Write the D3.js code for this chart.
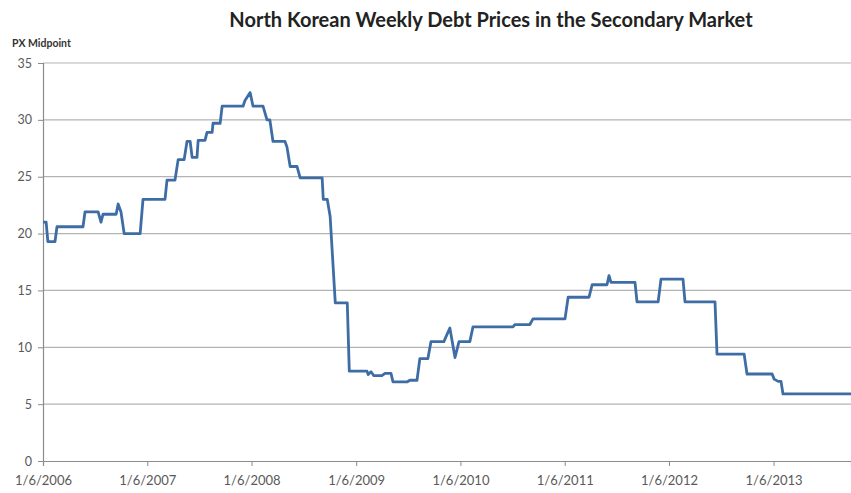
<!DOCTYPE html>
<html>
<head>
<meta charset="utf-8">
<script src="https://cdn.jsdelivr.net/npm/d3@7"></script>
<style>
  html, body { margin: 0; padding: 0; background: #fff; }
  svg { display: block; }
</style>
</head>
<body>
<svg id="chart" width="851" height="493"></svg>
<script>
const titleText = "North Korean Weekly Debt Prices in the Secondary Market";
const yAxisTitle = "PX Midpoint";
const xTickLabels = ["1/6/2006","1/6/2007","1/6/2008","1/6/2009","1/6/2010","1/6/2011","1/6/2012","1/6/2013"];
const yTicks = [0, 5, 10, 15, 20, 25, 30, 35];
const xDomain = ["2006-01-06", "2013-10-04"];

const dates = [
  "2006-01-06","2006-01-17","2006-01-23","2006-02-17","2006-02-24","2006-05-26","2006-06-02","2006-07-18",
  "2006-07-28","2006-08-04","2006-09-19","2006-09-26","2006-10-06","2006-10-17","2006-12-12","2006-12-22",
  "2007-03-09","2007-03-16","2007-04-13","2007-04-24","2007-05-15","2007-05-25","2007-06-05","2007-06-12",
  "2007-06-29","2007-07-03","2007-07-27","2007-08-03","2007-08-21","2007-08-24","2007-09-18","2007-09-25",
  "2007-12-07","2007-12-14","2008-01-01","2008-01-11","2008-02-15","2008-02-29","2008-03-10","2008-03-21",
  "2008-05-02","2008-05-09","2008-05-20","2008-06-13","2008-06-24","2008-09-09","2008-09-13","2008-09-27",
  "2008-10-07","2008-10-25","2008-12-06","2008-12-13","2009-02-13","2009-02-17","2009-02-27","2009-03-09",
  "2009-04-06","2009-04-17","2009-05-08","2009-05-15","2009-07-03","2009-07-13","2009-08-07","2009-08-17",
  "2009-09-14","2009-09-25","2009-11-09","2009-11-30","2009-12-18","2010-01-01","2010-02-08","2010-02-19",
  "2010-07-09","2010-07-16","2010-09-06","2010-09-17","2011-01-07","2011-01-18","2011-04-01","2011-04-12",
  "2011-06-03","2011-06-10","2011-06-17","2011-09-09","2011-09-16","2011-11-29","2011-12-09","2012-02-24",
  "2012-03-02","2012-06-15","2012-06-22","2012-09-25","2012-10-05","2013-01-01","2013-01-08","2013-01-22",
  "2013-02-01","2013-02-08","2013-10-04"
];
const values = [
  21.0, 21.0, 19.3, 19.3, 20.6, 20.6, 21.9, 21.9,
  21.0, 21.7, 21.7, 22.6, 21.9, 20.0, 20.0, 23.0,
  23.0, 24.7, 24.7, 26.5, 26.5, 28.1, 28.1, 26.7,
  26.7, 28.2, 28.2, 28.9, 28.9, 29.7, 29.7, 31.2,
  31.2, 31.7, 32.4, 31.2, 31.2, 30.0, 30.0, 28.1,
  28.1, 27.6, 25.9, 25.9, 24.9, 24.9, 23.0, 23.0,
  21.5, 13.9, 13.9, 7.9, 7.9, 7.6, 7.85, 7.5,
  7.5, 7.7, 7.7, 6.95, 6.95, 7.1, 7.1, 9.0,
  9.0, 10.5, 10.5, 11.7, 9.1, 10.5, 10.5, 11.8,
  11.8, 12.0, 12.0, 12.5, 12.5, 14.4, 14.4, 15.5,
  15.5, 16.3, 15.7, 15.7, 14.0, 14.0, 16.0, 16.0,
  14.0, 14.0, 9.4, 9.4, 7.65, 7.65, 7.2, 7.0,
  7.0, 5.9, 5.9
];

const parseISO = d3.timeParse("%Y-%m-%d");
const parseLabel = d3.timeParse("%m/%d/%Y");
const data = dates.map((d, i) => ({ date: parseISO(d), value: values[i] }));

const svg = d3.select("#chart");
const plot = { left: 43, right: 851, top: 63, bottom: 461 };

const x = d3.scaleTime().domain(xDomain.map(parseISO)).range([plot.left, plot.right]);
const y = d3.scaleLinear().domain([0, 35]).range([plot.bottom, plot.top]);

const fontFamily = "Lato, 'Open Sans', sans-serif";
const textColor = "#595959";

// Title
svg.append("text")
  .attr("x", 491).attr("y", 27)
  .attr("text-anchor", "middle")
  .attr("font-family", fontFamily)
  .attr("font-weight", "bold")
  .attr("font-size", 20)
  .attr("fill", "#222")
  .text(titleText);

// Y axis title
svg.append("text")
  .attr("x", 12).attr("y", 47)
  .attr("font-family", fontFamily)
  .attr("font-weight", "bold")
  .attr("font-size", 10.5)
  .attr("fill", "#333")
  .text(yAxisTitle);

// Gridlines
svg.append("g")
  .selectAll("line")
  .data(yTicks.filter(t => t > 0))
  .join("line")
  .attr("x1", plot.left).attr("x2", plot.right)
  .attr("y1", d => y(d)).attr("y2", d => y(d))
  .attr("stroke", "#b3b3b3")
  .attr("stroke-width", 1.2);

// Y axis
const yAxis = svg.append("g")
  .attr("transform", `translate(${plot.left},0)`)
  .call(d3.axisLeft(y).tickValues(yTicks).tickSize(5).tickPadding(6).tickFormat(d3.format("d")));
yAxis.select(".domain").attr("stroke", "#8c8c8c").attr("stroke-width", 1.2);
yAxis.selectAll(".tick line").attr("stroke", "#8c8c8c");
yAxis.selectAll(".tick text")
  .attr("font-family", fontFamily).attr("font-size", 12.5).attr("fill", textColor);

// X axis
const xTickDates = xTickLabels.map(parseLabel);
const xAxis = svg.append("g")
  .attr("transform", `translate(0,${plot.bottom})`)
  .call(d3.axisBottom(x).tickValues(xTickDates).tickSize(5).tickPadding(10)
    .tickFormat((d, i) => xTickLabels[i]));
xAxis.select(".domain").attr("stroke", "#8c8c8c").attr("stroke-width", 1.2);
xAxis.selectAll(".tick line").attr("stroke", "#8c8c8c");
xAxis.selectAll(".tick text")
  .attr("font-family", fontFamily).attr("font-size", 13).attr("fill", textColor);

// Line
const line = d3.line().x(d => x(d.date)).y(d => y(d.value));
svg.append("path")
  .datum(data)
  .attr("fill", "none")
  .attr("stroke", "#3e6da6")
  .attr("stroke-width", 2.8)
  .attr("stroke-linejoin", "round")
  .attr("d", line);
</script>
</body>
</html>
